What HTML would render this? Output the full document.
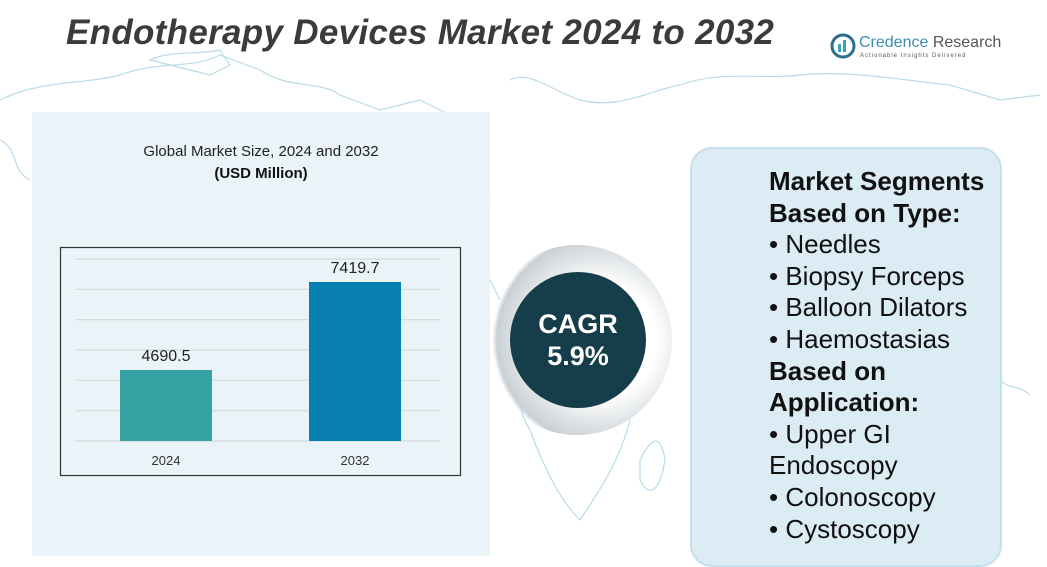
<!DOCTYPE html>
<html><head><meta charset="utf-8"><style>
body{margin:0;width:1047px;height:556px;overflow:hidden;background:#fff;font-family:"Liberation Sans",sans-serif;position:relative}
.abs{position:absolute}
</style></head><body>
<svg class="abs" style="left:0;top:0" width="1047" height="556">
<g fill="none" stroke="#b9dbe8" stroke-width="1.2">
<path d="M0,100 C40,80 80,85 120,75 C160,60 190,70 220,55 L260,70 C290,90 320,80 340,95 L380,110 L420,100 L460,120 L470,150 L490,200 L480,260 L500,300"/>
<path d="M150,60 C170,50 200,55 220,50 L230,65 L210,75 L190,70 Z"/>
<path d="M510,80 C530,70 550,90 580,100 C620,110 650,90 680,85 C720,70 760,80 800,75 C850,70 900,80 950,85 L1000,100 L1040,95"/>
<path d="M500,310 C520,350 510,400 530,430 C545,470 560,500 580,520 C600,490 620,460 630,420 C640,380 650,350 630,320"/>
<path d="M640,460 C650,440 660,430 665,460 C660,490 650,500 640,480 Z"/>
<path d="M0,140 C20,150 10,170 30,180"/>
<path d="M1000,380 C1010,390 1020,385 1030,395"/>
</g></svg>
<div class="abs" style="left:32px;top:112px;width:458px;height:444px;background:#e9f3f8"></div>
<div class="abs" style="left:32px;top:143px;width:458px;text-align:center;font-size:15px;color:#222">Global Market Size, 2024 and 2032</div>
<div class="abs" style="left:32px;top:165px;width:458px;text-align:center;font-size:15px;font-weight:bold;color:#111">(USD Million)</div>
<div class="abs" style="left:66px;top:13px;font-size:35px;font-weight:bold;font-style:italic;color:#3b3b3b;letter-spacing:0.3px">Endotherapy Devices Market 2024 to 2032</div>
<div class="abs" style="left:830px;top:32px;width:172px;height:30px">
<svg class="abs" style="left:0;top:0" width="26" height="28"><circle cx="13" cy="14" r="11" fill="none" stroke="#2a6f8c" stroke-width="3"/><rect x="8" y="12" width="3" height="8" fill="#3aa0c0"/><rect x="13" y="8" width="3" height="12" fill="#3aa0c0"/></svg>
<div class="abs" style="left:29px;top:2px;font-size:16px;color:#3a8fb0;white-space:nowrap">Credence <span style="color:#555">Research</span></div>
<div class="abs" style="left:30px;top:21px;font-size:6px;color:#555;letter-spacing:1px;white-space:nowrap">Actionable Insights Delivered</div>
</div>
<svg class="abs" style="left:0;top:0" width="1047" height="556" id="chart">
<rect x="60.5" y="247.5" width="400" height="228" fill="none" stroke="#333" stroke-width="1.2"/>
</svg>
<div class="abs" style="left:482px;top:245px;width:190px;height:190px;border-radius:50%;background:radial-gradient(circle at 62% 50%,#fff 38%,#c9d0d4 68%,rgba(255,255,255,0) 71%)"></div>
<div class="abs" style="left:510px;top:272px;width:136px;height:136px;border-radius:50%;background:#163d4a;color:#fff;text-align:center;font-weight:bold;font-size:27px;line-height:32px;box-sizing:border-box;padding-top:36px">CAGR<br>5.9%</div>
<div class="abs" style="left:690px;top:147px;width:312px;height:420px;border-radius:22px;background:#dcecf5;border:2px solid #c5dfec;box-sizing:border-box"></div>
<div class="abs" style="left:769px;top:166px;width:260px;font-size:26px;line-height:31.6px;color:#111;white-space:nowrap">
<b>Market Segments</b><br><b>Based on Type:</b><br>• Needles<br>• Biopsy Forceps<br>• Balloon Dilators<br>• Haemostasias<br><b>Based on</b><br><b>Application:</b><br>• Upper GI<br>Endoscopy<br>• Colonoscopy<br>• Cystoscopy</div>
<script>
const categories=["2024","2032"];
const values=[4690.5,7419.7];
const valueLabels=["4690.5","7419.7"];
const colors=["#35a3a3","#0880b0"];
const svg=document.getElementById('chart');
const NS='http://www.w3.org/2000/svg';
const yMin=2488,yMax=8133,plotTop=259,plotBottom=441;
function y(v){return plotBottom-(v-yMin)/(yMax-yMin)*(plotBottom-plotTop);}
function xc(i){return 166+i*189;}
for(let g=0;g<7;g++){
 const gv=yMin+g*(yMax-yMin)/6;
 const l=document.createElementNS(NS,'line');
 l.setAttribute('x1',75);l.setAttribute('x2',440);l.setAttribute('y1',y(gv));l.setAttribute('y2',y(gv));
 l.setAttribute('stroke','#d4d8da');l.setAttribute('stroke-width','1.2');
 
 
 svg.appendChild(l);
}
categories.forEach((c,i)=>{
 const r=document.createElementNS(NS,'rect');
 r.setAttribute('x',xc(i)-46);r.setAttribute('width',92);
 r.setAttribute('y',y(values[i]));r.setAttribute('height',plotBottom-y(values[i]));
 r.setAttribute('fill',colors[i]);
 
 
 svg.appendChild(r);
 const t=document.createElementNS(NS,'text');
 t.setAttribute('x',xc(i));t.setAttribute('y',y(values[i])-9);t.setAttribute('text-anchor','middle');
 t.setAttribute('font-size','16');t.setAttribute('fill','#222');t.textContent=valueLabels[i];
 
 
 svg.appendChild(t);
 const a=document.createElementNS(NS,'text');
 a.setAttribute('x',xc(i));a.setAttribute('y',465);a.setAttribute('text-anchor','middle');
 a.setAttribute('font-size','13');a.setAttribute('fill','#333');a.textContent=c;
 
 
 svg.appendChild(a);
});
</script>
</body></html>
